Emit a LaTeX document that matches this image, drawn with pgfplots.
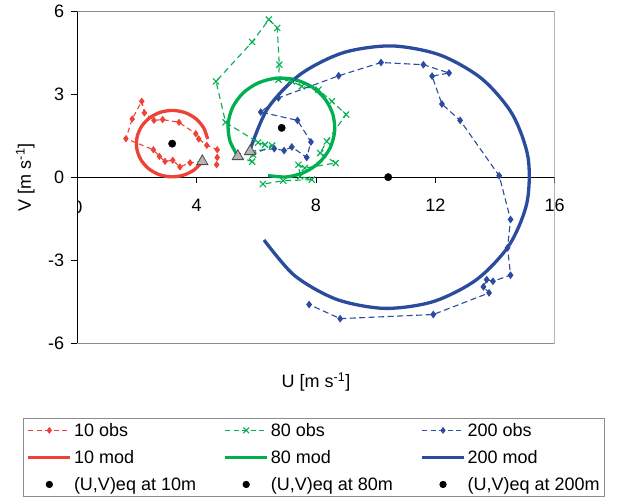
\documentclass[border=0pt]{standalone}
\usepackage{pgfplots}
\pgfplotsset{compat=1.18}
\usepackage{fontspec}
\setmainfont{Liberation Sans}
\definecolor{cred}{HTML}{EF4136}
\definecolor{cgreen}{HTML}{00AF50}
\definecolor{cblue}{HTML}{2A4B9E}
\definecolor{cframe}{HTML}{8C8C8C}
\definecolor{ctri}{HTML}{B4B4B4}
\begin{document}
\begin{tikzpicture}[x=1pt,y=1pt]
\useasboundingbox (0,0) rectangle (621,496);
\begin{axis}[
  at={(77.3pt,152.7pt)}, anchor=south west,
  scale only axis, width=477.4pt, height=332.3pt,
  xmin=0,xmax=16,ymin=-6,ymax=6,
  axis x line=middle, axis y line=left,
  axis line style={-, black, line width=0.8pt},
  xtick={0,4,8,12,16}, xticklabels={0,4,8,12,16},
  ytick={-6,-3,0,3,6}, yticklabels={-6,-3,0,3,6},
  tick align=outside, major tick length=6pt,
  tick style={black, line width=0.8pt},
  ticklabel style={font=\fontsize{18}{21}\selectfont},
  xticklabel style={yshift=-12pt},
  yticklabel style={xshift=-3.6pt},
  xlabel={U [m s\textsuperscript{-1}]},
  ylabel={V [m s\textsuperscript{-1}]},
  x label style={at={(axis description cs:0.5,-0.117)}, anchor=center, font=\fontsize{18}{21}\selectfont},
  y label style={at={(axis description cs:-0.109,0.5)}, anchor=center, font=\fontsize{18}{21}\selectfont},
  legend image code/.code={\draw[mark repeat=2,mark phase=2,#1] plot coordinates {(0pt,0pt) (21pt,0pt) (42pt,0pt)};},
  legend columns=3,
  legend cell align=left,
  legend style={at={(axis description cs:-0.1131,-0.2239)}, anchor=north west,
    draw=cframe, line width=0.8pt, inner sep=3pt,
    font=\fontsize{18}{21}\selectfont,
    nodes={inner sep=2pt},
    row sep=8.5pt,
    /tikz/every even column/.append style={column sep=25.5pt}},
]
\draw[cframe, line width=0.8pt] (rel axis cs:0,0) -- (rel axis cs:1,0) -- (rel axis cs:1,1) -- (rel axis cs:0,1);
\node[font=\fontsize{18}{21}\selectfont, anchor=north, inner sep=6pt] at (axis cs:0,0) [yshift=-18pt] {0};

% model curves
\addplot[cred, line width=3.3pt, smooth, forget plot] coordinates {
(4.198,0.574) (3.919,0.264) (3.551,0.069) (3.138,0.011) (2.730,0.097) (2.377,0.318)
(2.121,0.647) (1.992,1.043) (2.006,1.459) (2.162,1.846) (2.441,2.156) (2.809,2.351)
(3.222,2.409) (3.630,2.323) (3.983,2.102) (4.239,1.773) (4.368,1.377)};
\addplot[cgreen, line width=3.3pt, smooth, forget plot] coordinates {
(5.383,0.751) (5.115,1.312) (5.056,1.930) (5.211,2.532) (5.563,3.045) (6.069,3.406)
(6.669,3.572) (7.288,3.523) (7.854,3.265) (8.297,2.829) (8.565,2.268) (8.624,1.649)
(8.469,1.048) (8.117,0.535) (7.611,0.174) (7.011,0.008) (6.392,0.057)};
\addplot[cblue, line width=3.3pt, smooth, forget plot] coordinates {
(5.773,0.937) (6.374,2.470) (7.463,3.704) (8.908,4.493) (10.536,4.739) (12.150,4.413)
(13.555,3.556) (14.582,2.269) (15.107,0.709) (15.067,-0.937) (14.466,-2.470) (13.377,-3.704)
(11.932,-4.493) (10.304,-4.739) (8.690,-4.413) (7.285,-3.556) (6.258,-2.269)};

% observations
\addplot[cred, line width=1.1pt, dash pattern=on 5pt off 3.5pt, mark=diamond*, mark size=2.8pt, mark options={solid}, forget plot] coordinates {
(4.19,0.57) (3.78,0.52) (3.44,0.37) (3.20,0.61) (2.94,0.57) (2.75,0.75) (2.55,0.99)
(1.63,1.39) (1.84,2.10) (2.16,2.74) (2.25,2.32) (2.57,2.05) (2.86,2.08) (3.41,1.98)
(3.97,1.57) (4.07,1.38) (4.34,1.15) (4.69,0.99) (4.69,0.71) (4.67,0.45)};
\addplot[cgreen, line width=1.1pt, dash pattern=on 6pt off 4pt, mark=x, mark size=4.3pt, mark options={solid}, forget plot] coordinates {
(5.38,0.75) (5.86,0.56) (5.89,0.81) (6.53,1.14) (6.29,1.17) (6.06,1.25) (4.97,1.98)
(4.65,3.46) (5.86,4.88) (6.42,5.69) (6.70,5.39) (6.77,4.06) (6.74,3.52) (7.19,3.46)
(7.52,3.28) (8.08,3.16) (8.53,2.74) (9.01,2.26) (8.36,1.29) (8.14,0.87) (8.66,0.51)
(7.63,0.33) (7.41,0.45) (7.47,0.03) (7.86,-0.09) (6.90,-0.13) (6.22,-0.25)};
\addplot[cblue, line width=1.1pt, dash pattern=on 6pt off 3.5pt, mark=diamond*, mark size=3pt, mark options={solid}, forget plot] coordinates {
(5.79,0.93) (6.60,1.03) (6.93,0.96) (7.19,1.09) (7.69,0.71) (7.83,1.27) (7.38,2.05)
(6.15,2.35) (6.74,2.86) (8.76,3.66) (10.18,4.14) (11.60,4.06) (12.46,3.76) (11.89,3.65)
(12.22,2.64) (12.83,2.05) (14.14,0.05) (14.52,-1.53) (14.42,-2.55) (14.52,-3.54)
(13.93,-3.76) (13.72,-3.70) (13.61,-3.96) (13.80,-4.18) (11.93,-4.96) (8.81,-5.11) (7.77,-4.60)};

% equilibrium points
\addplot[only marks, mark=*, mark size=3.7pt, black, forget plot] coordinates {(3.18,1.21) (6.85,1.78) (10.42,0)};

% initial points
\addplot[only marks, mark=triangle*, mark size=6.5pt, mark options={fill=ctri, draw=black!70, line width=0.8pt}, forget plot] coordinates {(4.19,0.57) (5.38,0.75) (5.79,0.93)};

% legend
\addlegendimage{cred, line width=1.1pt, dash pattern=on 5pt off 3.5pt, mark=diamond*, mark size=2.6pt, mark options={solid}}
\addlegendentry{10 obs}
\addlegendimage{cgreen, line width=1.1pt, dash pattern=on 5pt off 3.5pt, mark=x, mark size=4pt, mark options={solid}}
\addlegendentry{80 obs}
\addlegendimage{cblue, line width=1.1pt, dash pattern=on 5pt off 3.5pt, mark=diamond*, mark size=2.6pt, mark options={solid}}
\addlegendentry{200 obs}
\addlegendimage{cred, line width=3.3pt}
\addlegendentry{10 mod}
\addlegendimage{cgreen, line width=3.3pt}
\addlegendentry{80 mod}
\addlegendimage{cblue, line width=3.3pt}
\addlegendentry{200 mod}
\addlegendimage{only marks, mark=*, mark size=3.2pt, black}
\addlegendentry{(U,V)eq at 10m}
\addlegendimage{only marks, mark=*, mark size=3.2pt, black}
\addlegendentry{(U,V)eq at 80m}
\addlegendimage{only marks, mark=*, mark size=3.2pt, black}
\addlegendentry{(U,V)eq at 200m}
\end{axis}
\end{tikzpicture}
\end{document}
